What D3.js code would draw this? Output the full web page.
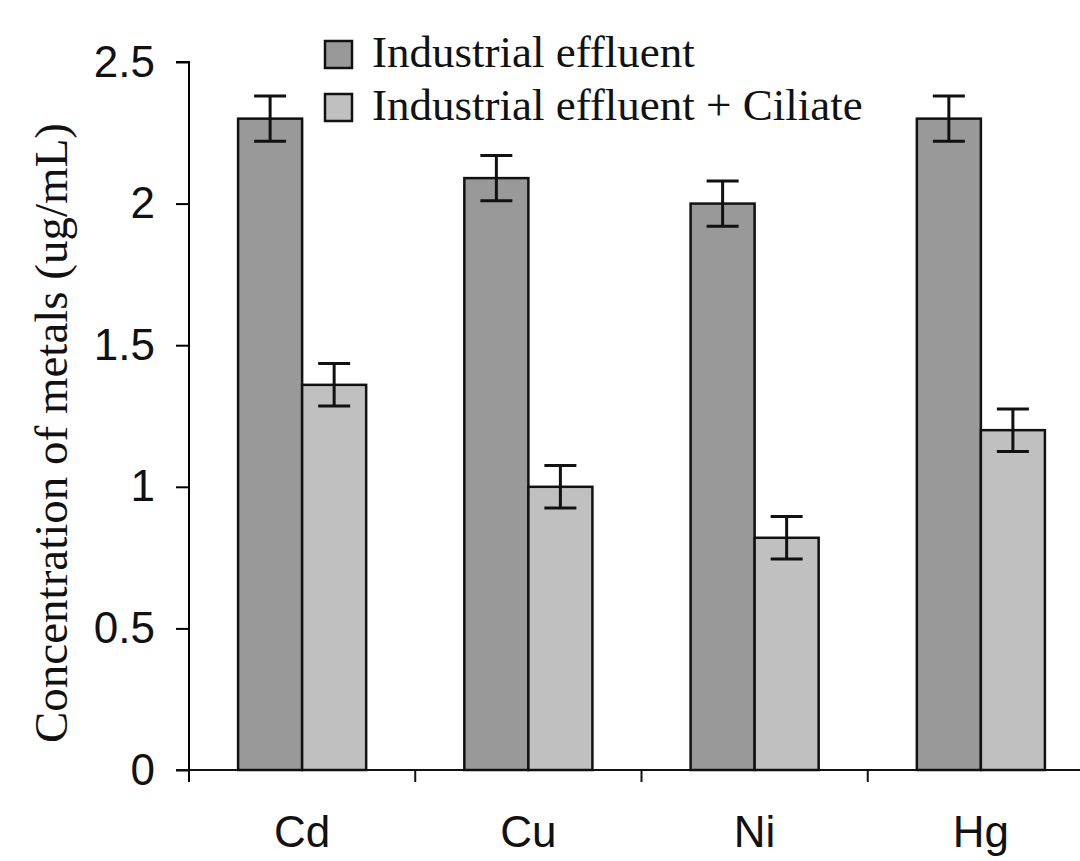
<!DOCTYPE html>
<html>
<head>
<meta charset="utf-8">
<script src="https://cdn.jsdelivr.net/npm/d3@7"></script>
<style>
  body { margin: 0; background: #fff; }
</style>
</head>
<body>
<svg width="1080" height="861"></svg>
<script>
let metals = ["Cd", "Cu", "Ni", "Hg"];
let series = ["Industrial effluent", "Industrial effluent + Ciliate"];
let effluent = [2.30, 2.09, 2.00, 2.30];
let effluentErr = [0.08, 0.08, 0.08, 0.08];
let ciliate = [1.36, 1.00, 0.82, 1.20];
let ciliateErr = [0.075, 0.075, 0.075, 0.075];
let yTicks = [0, 0.5, 1, 1.5, 2, 2.5];
let colors = ["#999999", "#c0c0c0"];

let svg = d3.select('svg');

let x = d3.scaleBand()
    .domain(metals)
    .range([189, 1094])
    .paddingInner(0.434)
    .paddingOuter(0.217);

let x1 = d3.scaleBand()
    .domain(series)
    .range([0, x.bandwidth()]);

let y = d3.scaleLinear()
    .domain([0, 2.5])
    .range([770, 62]);

let rows = metals.map(function (m, i) {
    return [
        { metal: m, s: series[0], v: effluent[i], e: effluentErr[i], c: colors[0] },
        { metal: m, s: series[1], v: ciliate[i], e: ciliateErr[i], c: colors[1] }
    ];
}).flat();

// bars
svg.append('g')
    .selectAll('rect')
    .data(rows)
    .join('rect')
    .attr('x', function (d) { return x(d.metal) + x1(d.s); })
    .attr('y', function (d) { return y(d.v); })
    .attr('width', x1.bandwidth())
    .attr('height', function (d) { return y(0) - y(d.v); })
    .attr('fill', function (d) { return d.c; })
    .attr('stroke', '#111')
    .attr('stroke-width', 2.5);

// error bars
let err = svg.append('g')
    .attr('stroke', '#111')
    .attr('stroke-width', 3)
    .selectAll('g')
    .data(rows)
    .join('g')
    .attr('transform', function (d) { return 'translate(' + (x(d.metal) + x1(d.s) + x1.bandwidth() / 2) + ',0)'; });

err.append('line')
    .attr('y1', function (d) { return y(d.v + d.e); })
    .attr('y2', function (d) { return y(d.v - d.e); });
err.append('line')
    .attr('x1', -16).attr('x2', 16)
    .attr('y1', function (d) { return y(d.v + d.e); })
    .attr('y2', function (d) { return y(d.v + d.e); });
err.append('line')
    .attr('x1', -16).attr('x2', 16)
    .attr('y1', function (d) { return y(d.v - d.e); })
    .attr('y2', function (d) { return y(d.v - d.e); });

// y axis
let yAxis = svg.append('g')
    .attr('transform', 'translate(189,0)')
    .call(d3.axisLeft(y).tickValues(yTicks).tickSize(13).tickPadding(21)
        .tickFormat(function (d) { return d; }));
yAxis.select('.domain')
    .attr('d', 'M-13,' + y(2.5) + 'H0V' + (y(0) + 12));
yAxis.selectAll('line').attr('stroke-width', 2);
yAxis.selectAll('path').attr('stroke-width', 2);
yAxis.selectAll('text')
    .attr('font-family', 'Liberation Sans, Arial, sans-serif')
    .attr('font-size', 44)
    .attr('fill', '#111');

// x axis with boundary ticks
let xAxis = svg.append('g')
    .attr('transform', 'translate(0,' + y(0) + ')');
xAxis.append('line')
    .attr('x1', 176).attr('x2', 1080)
    .attr('stroke', '#111').attr('stroke-width', 2);
xAxis.selectAll('.sep')
    .data(metals.slice(1))
    .join('line')
    .attr('class', 'sep')
    .attr('x1', function (d) { return x(d) - x.step() * x.paddingInner() / 2; })
    .attr('x2', function (d) { return x(d) - x.step() * x.paddingInner() / 2; })
    .attr('y1', 0).attr('y2', 12)
    .attr('stroke', '#111').attr('stroke-width', 2);
xAxis.selectAll('text')
    .data(metals)
    .join('text')
    .attr('x', function (d) { return x(d) + x.bandwidth() / 2; })
    .attr('y', 77)
    .attr('text-anchor', 'middle')
    .attr('font-family', 'Liberation Sans, Arial, sans-serif')
    .attr('font-size', 44)
    .attr('fill', '#111')
    .text(function (d) { return d; });

// y title
svg.append('text')
    .attr('transform', 'translate(67,433) rotate(-90)')
    .attr('text-anchor', 'middle')
    .attr('font-family', 'Liberation Serif, Times New Roman, serif')
    .attr('font-size', 47)
    .attr('fill', '#111')
    .text('Concentration of metals (ug/mL)');

// legend
let legend = svg.append('g')
    .selectAll('g')
    .data(series)
    .join('g')
    .attr('transform', function (d, i) { return 'translate(325,' + (41 + i * 53) + ')'; });
legend.append('rect')
    .attr('width', 27).attr('height', 27)
    .attr('fill', function (d, i) { return colors[i]; })
    .attr('stroke', '#111').attr('stroke-width', 2.5);
legend.append('text')
    .attr('x', 47).attr('y', 26)
    .attr('font-family', 'Liberation Serif, Times New Roman, serif')
    .attr('font-size', 45)
    .attr('fill', '#111')
    .text(function (d) { return d; });
</script>
</body>
</html>
